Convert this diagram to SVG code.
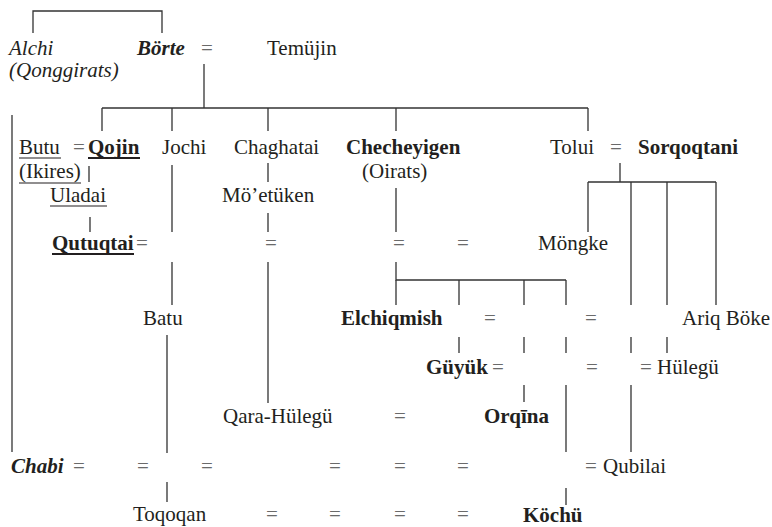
<svg xmlns="http://www.w3.org/2000/svg" width="772" height="527" viewBox="0 0 772 527">
  <style>
    text { font-family: 'Liberation Serif', Tinos, 'Times New Roman', Times, 'DejaVu Serif', serif; font-size: 21px; fill: #231f20; }
    .b { font-weight: bold; }
    .i { font-style: italic; }
    .eq { fill: #6a6a6a; text-anchor: middle; }
    .ln { stroke: #333; stroke-width: 1.3; fill: none; }
    .ul { stroke: #231f20; stroke-width: 1.1; }
    .ulb { stroke: #231f20; stroke-width: 2; }
  </style>
  <rect width="772" height="527" fill="#fff"/>

  <!-- descent lines -->
  <g id="connectors" class="ln">
    <!-- Alchi / Börte sibling bracket -->
    <path d="M33 33 V11 H162 V33"/>
    <!-- Börte = Temüjin children -->
    <path d="M204 64 V108"/>
    <path d="M102 108 H588"/>
    <path d="M102 108 V131 M172 108 V131 M268 108 V131 M396 108 V131 M588 108 V131"/>
    <!-- left line to Chabi -->
    <path d="M12 115 V452"/>
    <!-- Qojin line -->
    <path d="M89 166 V182 M90 217 V232"/>
    <!-- Jochi to Batu to Toqoqan -->
    <path d="M172 165 V232 M172 262 V305 M167 335 V453 M167 482 V502"/>
    <!-- Chaghatai to Mö'etüken to Qara-Hülegü -->
    <path d="M268 163 V182 M268 213 V232 M268 262 V403"/>
    <!-- Checheyigen to her children -->
    <path d="M396 188 V232 M396 262 V280 H566"/>
    <path d="M396 280 V305 M459 280 V305 M524 280 V305 M566 280 V305"/>
    <path d="M459 337 V353 M524 337 V353 M566 337 V353"/>
    <path d="M524 385 V402 M566 385 V452 M566 488 V505"/>
    <!-- Tolui = Sorqoqtani children -->
    <path d="M620 163 V182 M588 182 H716"/>
    <path d="M588 182 V232 M631 182 V305 M667 182 V305 M716 182 V305"/>
    <path d="M631 337 V353 M667 337 V353 M631 385 V452"/>
  </g>

  <!-- underlines -->
  <g id="underlines">
    <line class="ul" x1="19" y1="158" x2="61" y2="158"/>
    <line class="ulb" x1="88" y1="158" x2="140" y2="158"/>
    <line class="ul" x1="19" y1="183" x2="81" y2="183"/>
    <line class="ul" x1="50" y1="206" x2="107" y2="206"/>
    <line class="ulb" x1="52" y1="254" x2="134" y2="254"/>
  </g>

  <g id="alchi"><text class="i" x="9" y="55">Alchi</text><text class="i" x="9" y="77">(Qonggirats)</text></g>
  <g id="borte"><text class="b i" x="137" y="55">Börte</text></g>
  <g id="temujin"><text x="267" y="55">Temüjin</text></g>

  <g id="butu"><text x="19" y="154">Butu</text><text x="19" y="178">(Ikires)</text></g>
  <g id="qojin"><text class="b" x="88" y="154">Qojin</text></g>
  <g id="jochi"><text x="162" y="154">Jochi</text></g>
  <g id="chaghatai"><text x="234" y="154">Chaghatai</text></g>
  <g id="checheyigen"><text class="b" x="346" y="154">Checheyigen</text><text x="362" y="178">(Oirats)</text></g>
  <g id="tolui"><text x="550" y="154">Tolui</text></g>
  <g id="sorqoqtani"><text class="b" x="638" y="154">Sorqoqtani</text></g>

  <g id="uladai"><text x="50" y="202">Uladai</text></g>
  <g id="moetuken"><text x="222" y="202">Mö’etüken</text></g>

  <g id="qutuqtai"><text class="b" x="52" y="250">Qutuqtai</text></g>
  <g id="mongke"><text x="538" y="250">Möngke</text></g>

  <g id="batu"><text x="143" y="325">Batu</text></g>
  <g id="elchiqmish"><text class="b" x="341" y="325">Elchiqmish</text></g>
  <g id="ariq-boke"><text x="682" y="325">Ariq Böke</text></g>

  <g id="guyuk"><text class="b" x="426" y="374">Güyük</text></g>
  <g id="hulegu"><text x="657" y="374">Hülegü</text></g>

  <g id="qara-hulegu"><text x="223" y="423">Qara-Hülegü</text></g>
  <g id="orqina"><text class="b" x="484" y="423">Orqīna</text></g>

  <g id="chabi"><text class="b i" x="11" y="473">Chabi</text></g>
  <g id="qubilai"><text x="603" y="473">Qubilai</text></g>

  <g id="toqoqan"><text x="133" y="521">Toqoqan</text></g>
  <g id="kochu"><text class="b" x="523" y="522">Köchü</text></g>

  <!-- marriage signs -->
  <g id="marriages">
    <text class="eq" x="207" y="55">=</text>
    <text class="eq" x="79" y="154">=</text>
    <text class="eq" x="616" y="154">=</text>
    <text class="eq" x="142" y="250">=</text>
    <text class="eq" x="271" y="250">=</text>
    <text class="eq" x="399" y="250">=</text>
    <text class="eq" x="463" y="250">=</text>
    <text class="eq" x="490" y="325">=</text>
    <text class="eq" x="591" y="325">=</text>
    <text class="eq" x="498" y="374">=</text>
    <text class="eq" x="592" y="374">=</text>
    <text class="eq" x="646" y="374">=</text>
    <text class="eq" x="400" y="423">=</text>
    <text class="eq" x="79" y="473">=</text>
    <text class="eq" x="143" y="473">=</text>
    <text class="eq" x="207" y="473">=</text>
    <text class="eq" x="335" y="473">=</text>
    <text class="eq" x="400" y="473">=</text>
    <text class="eq" x="463" y="473">=</text>
    <text class="eq" x="591" y="473">=</text>
    <text class="eq" x="272" y="521">=</text>
    <text class="eq" x="335" y="521">=</text>
    <text class="eq" x="400" y="521">=</text>
    <text class="eq" x="463" y="521">=</text>
  </g>
</svg>
